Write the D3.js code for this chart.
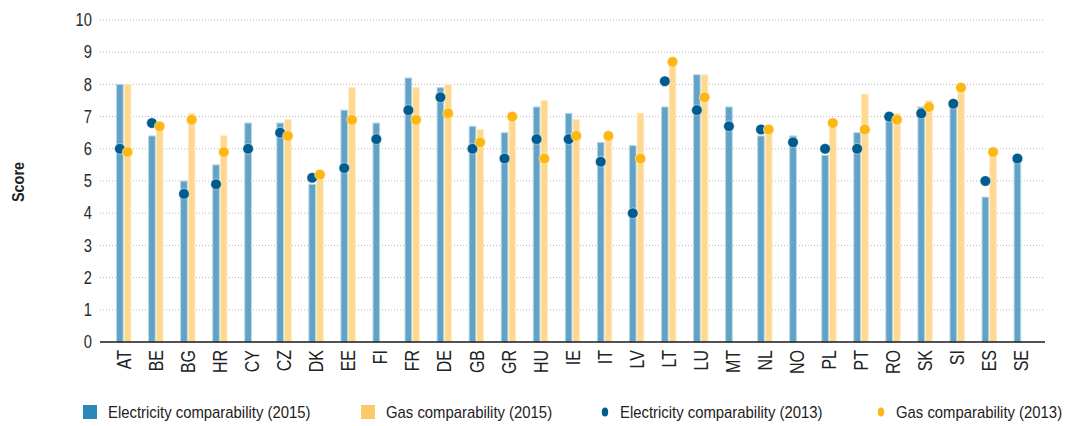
<!DOCTYPE html>
<html>
<head>
<meta charset="utf-8">
<script src="https://cdn.jsdelivr.net/npm/d3@7"></script>
<style>
  html, body { margin: 0; padding: 0; background: #fff; }
  svg { display: block; font-family: "Liberation Sans", Arial, sans-serif; }
</style>
</head>
<body>
<svg id="chart" width="1067" height="426"></svg>
<script>
// Country codes along the x axis
const countries = ["AT","BE","BG","HR","CY","CZ","DK","EE","FI","FR","DE","GB","GR","HU","IE","IT","LV","LT","LU","MT","NL","NO","PL","PT","RO","SK","SI","ES","SE"];

// Comparability scores (bars: 2015, dots: 2013); null = no gas market score
const elec2015 = [8.0,6.4,5.0,5.5,6.8,6.8,4.9,7.2,6.8,8.2,7.9,6.7,6.5,7.3,7.1,6.2,6.1,7.3,8.3,7.3,6.4,6.4,5.8,6.5,7.0,7.3,7.3,4.5,5.7];
const gas2015  = [8.0,6.7,7.1,6.4,null,6.9,5.2,7.9,null,7.9,8.0,6.6,7.0,7.5,6.9,6.3,7.1,8.7,8.3,null,6.6,null,6.7,7.7,7.1,7.5,7.9,5.8,null];
const elec2013 = [6.0,6.8,4.6,4.9,6.0,6.5,5.1,5.4,6.3,7.2,7.6,6.0,5.7,6.3,6.3,5.6,4.0,8.1,7.2,6.7,6.6,6.2,6.0,6.0,7.0,7.1,7.4,5.0,5.7];
const gas2013  = [5.9,6.7,6.9,5.9,null,6.4,5.2,6.9,null,6.9,7.1,6.2,7.0,5.7,6.4,6.4,5.7,8.7,7.6,null,6.6,null,6.8,6.6,6.9,7.3,7.9,5.9,null];

const yTicks = [0,1,2,3,4,5,6,7,8,9,10];
const seriesKeys = ["elec","gas"];
const legendLabels = ["Electricity comparability (2015)","Gas comparability (2015)","Electricity comparability (2013)","Gas comparability (2013)"];
const yTitle = "Score";

const colors = {
  elecBar: "#62a2c6", elecEdge: "#b9d7e8", elecSwatch: "#2b88b8", elecDot: "#005b8e",
  gasBar: "#fed88f", gasEdge: "#feeac4", gasSwatch: "#fdc96a", gasDot: "#fcb712"
};

const svg = d3.select("#chart");
const plotLeft = 100, plotRight = 1045, plotTop = 20, plotBottom = 342;

const x0 = d3.scaleBand().domain(countries).range([plotLeft, plotRight]).paddingInner(0.52).paddingOuter(0.5);
const x1 = d3.scaleBand().domain(seriesKeys).range([0, x0.bandwidth()]);
const y = d3.scaleLinear().domain([0, 10]).range([plotBottom, plotTop]);

// Dotted horizontal gridlines
svg.append("g")
  .selectAll("line")
  .data(yTicks.filter(d => d > 0))
  .join("line")
  .attr("x1", plotLeft).attr("x2", plotRight)
  .attr("y1", d => y(d)).attr("y2", d => y(d))
  .attr("stroke", "#b8b8b8")
  .attr("stroke-width", 1)
  .attr("stroke-dasharray", "1,2");

// Y axis tick labels
const yAxis = d3.axisLeft(y).tickValues(yTicks).tickSize(0).tickPadding(8);
const yg = svg.append("g").attr("transform", `translate(${plotLeft},0)`).call(yAxis);
yg.select(".domain").remove();
yg.selectAll("text")
  .attr("font-size", 18)
  .attr("fill", "#2a2a2a")
  .attr("font-family", "Liberation Sans, Arial, sans-serif")
  .each(function() {
    const t = d3.select(this);
    const tx = +t.attr("x");
    t.attr("transform", `translate(${tx},0) scale(0.82,1)`).attr("x", 0);
  });

// Bars per country
const rows = countries.map((c, i) => ({
  c, elec: elec2015[i], gas: gas2015[i], e13: elec2013[i], g13: gas2013[i]
}));

const groups = svg.append("g").selectAll("g")
  .data(rows).join("g")
  .attr("transform", d => `translate(${x0(d.c)},0)`);

groups.filter(d => d.elec != null).append("rect")
  .attr("x", x1("elec") + 0.5).attr("width", x1.bandwidth() - 1)
  .attr("y", d => y(d.elec)).attr("height", d => y(0) - y(d.elec))
  .attr("fill", colors.elecBar).attr("stroke", colors.elecEdge).attr("stroke-width", 1);

groups.filter(d => d.gas != null).append("rect")
  .attr("x", x1("gas") + 0.5).attr("width", x1.bandwidth() - 1)
  .attr("y", d => y(d.gas)).attr("height", d => y(0) - y(d.gas))
  .attr("fill", colors.gasBar).attr("stroke", colors.gasEdge).attr("stroke-width", 1);

// X axis baseline
svg.append("line")
  .attr("x1", plotLeft).attr("x2", plotRight)
  .attr("y1", y(0)).attr("y2", y(0))
  .attr("stroke", "#1a1a1a").attr("stroke-width", 1.5);

// 2013 dots
groups.filter(d => d.e13 != null).append("circle")
  .attr("cx", x1("elec") + x1.bandwidth() / 2).attr("cy", d => y(d.e13))
  .attr("r", 5.3).attr("fill", colors.elecDot)
  .attr("stroke", "#fff").attr("stroke-opacity", 0.6).attr("stroke-width", 0.8);

groups.filter(d => d.g13 != null).append("circle")
  .attr("cx", x1("gas") + x1.bandwidth() / 2).attr("cy", d => y(d.g13))
  .attr("r", 5.3).attr("fill", colors.gasDot)
  .attr("stroke", "#fff").attr("stroke-opacity", 0.6).attr("stroke-width", 0.8);

// Rotated country labels
svg.append("g").selectAll("text")
  .data(countries).join("text")
  .attr("transform", d => `translate(${x0(d) + x0.bandwidth() / 2},350) rotate(-90) scale(0.8,1)`)
  .attr("text-anchor", "end")
  .attr("dy", "0.36em")
  .attr("font-size", 20)
  .attr("fill", "#222")
  .text(d => d);

// Y axis title
svg.append("text")
  .attr("transform", "translate(18,182) rotate(-90) scale(0.85,1)")
  .attr("text-anchor", "middle")
  .attr("dy", "0.35em")
  .attr("font-size", 17)
  .attr("font-weight", "bold")
  .attr("fill", "#222")
  .text(yTitle);

// Legend
const legendItems = [
  { label: legendLabels[0], kind: "rect", color: colors.elecSwatch, x: 83 },
  { label: legendLabels[1], kind: "rect", color: colors.gasSwatch, x: 361 },
  { label: legendLabels[2], kind: "dot", color: colors.elecDot, x: 602 },
  { label: legendLabels[3], kind: "dot", color: colors.gasDot, x: 878 }
];
const lg = svg.append("g").attr("transform", "translate(0,412)");
legendItems.forEach(it => {
  const g = lg.append("g").attr("transform", `translate(${it.x},0)`);
  if (it.kind === "rect") {
    g.append("rect").attr("x", 0).attr("y", -7).attr("width", 14).attr("height", 14).attr("fill", it.color);
    g.append("text").attr("transform", "translate(25,0) scale(0.93,1)")
      .attr("dy", "0.35em").attr("font-size", 16).attr("fill", "#222").text(it.label);
  } else {
    g.append("ellipse").attr("cx", 3).attr("cy", 0).attr("rx", 3.2).attr("ry", 4.5).attr("fill", it.color);
    g.append("text").attr("transform", "translate(18,0) scale(0.93,1)")
      .attr("dy", "0.35em").attr("font-size", 16).attr("fill", "#222").text(it.label);
  }
});
</script>
</body>
</html>
